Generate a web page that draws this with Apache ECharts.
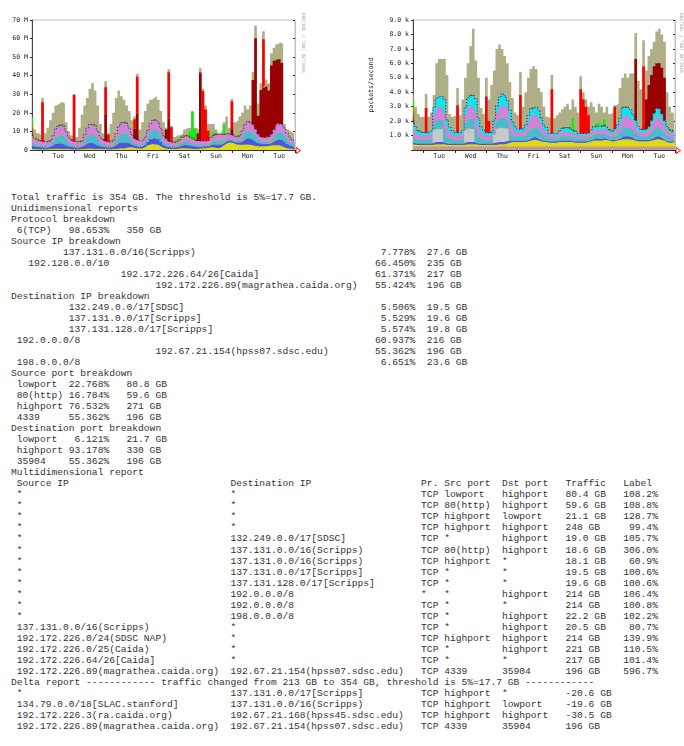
<!DOCTYPE html>
<html>
<head>
<meta charset="utf-8">
<title>traffic report</title>
<script src="https://cdn.jsdelivr.net/npm/echarts@6/dist/echarts.min.js"></script>
<style>
  html, body { margin: 0; padding: 0; background: #fff; }
  body { width: 684px; height: 746px; overflow: hidden; position: relative; }
  #graphs { position: absolute; left: 0; top: 0; width: 684px; height: 175px; }
  #report {
    position: absolute; left: 11px; top: 192px; margin: 0;
    font-family: "Liberation Mono", monospace; font-size: 9.65px; line-height: 11.02px;
    color: #333; white-space: pre;
  }
</style>
</head>
<body>
<div id="graphs"></div>
<pre id="report"></pre>
<script>
// samples every 2 hours, starting Monday 16:00
var days = ['Mon', 'Tue', 'Wed', 'Thu', 'Fri', 'Sat', 'Sun', 'Mon', 'Tue', 'Wed'];
var startHour = 16;
var stepHours = 2;

// ---- bytes graph (M) ----
var yellowL = [0.5,0.5,0.4,0.4,
  0.4,0.4,0.4,0.5,0.6,0.7,0.7,0.7,0.6,0.5,0.5,0.4,
  0.4,0.4,0.4,0.5,0.6,0.7,0.8,0.7,0.6,0.5,0.5,0.5,
  0.5,0.4,0.4,0.5,0.6,0.8,0.9,0.8,1.2,1.5,1.5,1.2,
  1.0,0.8,0.8,1.5,2.5,3.0,3.2,3.0,2.8,2.0,1.2,0.8,
  0.6,0.5,0.5,0.6,0.8,1.0,1.0,0.9,0.8,0.7,0.6,0.6,
  0.8,1.0,1.0,1.2,1.5,1.5,1.2,1.0,1.5,2.5,3.5,4.0,
  4.0,3.5,3.0,2.8,2.8,3.0,3.0,2.8,2.6,2.2,2.0,2.0,
  2.0,2.0,2.2,2.5,2.6,2.6,2.5,2.2,1.5,1.0,0.8,0.6,
  0.5];
var blueL = [1.8,1.5,1.3,1.2,
  1.1,1.0,1.0,1.2,1.8,2.5,2.8,3.0,2.8,2.2,1.6,1.3,
  1.1,1.0,1.0,1.2,1.8,2.6,3.0,3.1,2.9,2.2,1.6,1.3,
  1.1,1.0,1.0,1.3,2.0,2.8,3.2,3.2,3.0,2.4,1.7,1.3,
  1.1,1.0,1.0,1.3,2.0,2.8,3.2,3.3,3.0,2.4,1.7,1.3,
  1.0,0.9,0.9,1.0,1.2,1.5,1.8,1.8,1.6,1.5,1.3,1.1,
  1.0,0.9,0.9,1.0,1.3,1.6,1.8,1.8,1.7,1.6,1.4,1.2,
  1.1,1.0,1.0,1.4,2.2,3.0,3.4,3.4,3.1,2.6,1.9,1.5,
  1.3,1.2,1.2,1.5,2.2,3.0,3.3,3.2,2.8,2.2,1.6,1.3,
  1.2];
var tealL = [2.0,1.5,1.2,1.0,
  0.9,0.8,0.8,1.0,2.0,3.5,4.2,4.5,4.2,3.2,1.8,1.2,
  0.9,0.8,0.8,1.0,2.2,3.6,4.4,4.6,4.2,3.2,1.8,1.2,
  0.9,0.8,0.8,1.1,2.4,4.0,4.8,5.0,4.5,3.4,2.0,1.3,
  1.0,0.9,0.9,1.2,2.4,3.8,4.4,4.6,4.2,3.2,2.0,1.4,
  1.0,0.9,0.8,0.9,1.2,1.6,2.0,2.0,1.8,1.5,1.2,1.0,
  0.9,0.8,0.8,0.9,1.2,1.8,2.2,2.2,2.0,1.6,1.3,1.0,
  0.9,0.8,0.8,1.1,2.2,3.4,4.0,4.0,3.6,2.8,1.8,1.3,
  1.0,1.0,1.1,1.5,2.4,3.4,3.8,3.8,3.4,2.6,1.6,1.1,
  1.0];
var violetL = [4.0,3.0,2.6,2.5,
  2.3,2.2,2.2,2.5,3.5,4.8,5.4,5.5,5.2,4.2,3.0,2.6,
  2.3,2.2,2.2,2.5,3.6,5.0,5.6,5.6,5.3,4.3,3.0,2.6,
  2.3,2.2,2.3,2.6,3.8,5.2,5.8,6.0,5.6,4.5,3.2,2.7,
  2.4,2.3,2.3,2.7,3.6,4.6,5.2,5.4,5.0,4.0,3.0,2.6,
  2.2,2.0,2.0,2.1,2.4,2.8,3.0,3.0,2.8,2.6,2.4,2.2,
  2.2,2.1,2.1,2.2,2.6,3.0,3.4,3.4,3.2,2.8,2.6,2.4,
  2.3,2.2,2.3,2.6,3.4,4.4,4.8,4.8,4.4,3.6,2.8,2.5,
  2.4,2.4,2.6,3.0,3.8,4.4,4.8,4.6,4.2,3.4,2.8,2.5,
  2.4];
// overall height of the graph (top of the khaki area)
var totalL = [19,11,9,8,
  28,9,12,16,20,24,25,26,25,15,10,8,
  30,7,12,19,24,28,33,36,32,24,14,9,
  37,9,14,20,28,32,29,27,24,21,16,18,
  41,11,15,21,25,27,28,29,27,21,15,12,
  43.5,13,7,8,8,9,11,12,12,21,12,11,
  44,33,24,14,14,14,11,9,10,15,18,12,
  27.5,15,16,18,20,24,22,24,42,67,25,36,
  64,38,36,52,55,57,58,57,14,11,10,9,
  8];
// [sample, value] for the short bursts
var darkredL = [[28,14],[39,5],[40,14],[51,5],[52,12],[63,4],[64,36],[76,3],[84,24],[85,49],
  [86,10],[87,25],[88,27],[89,28],[90,25],[91,37],[92,37],[93,35.5],[94,34.6],[95,33]];
var redL = [[0,9],[4,21],[16,25],[28,15],[29,4],[39,5],[40,20],[52,25],[53,8],[64,1],
  [65,27],[66,17],[67,5],[76,15],[88,26]];
var greenL = [[60,3],[61,14],[62,6],[68,1.5],[69,1.5],[70,1],[73,5]];

// ---- packets graph (k/s) ----
var rosyR = [0.25,0.25,0.25,0.25,
  0.25,0.25,0.25,0.25,0.25,0.25,0.25,0.25,0.25,0.25,0.25,0.25,
  0.25,0.25,0.25,0.25,0.25,0.25,0.25,0.25,0.25,0.25,0.25,0.25,
  0.25,0.25,0.25,0.25,0.25,0.25,0.25,0.25,0.25,0.25,0.25,0.25,
  0.25,0.25,0.25,0.25,0.25,0.25,0.25,0.25,0.25,0.25,0.25,0.25,
  0.25,0.25,0.25,0.25,0.25,0.25,0.25,0.25,0.25,0.25,0.25,0.25,
  0.25,0.25,0.25,0.25,0.25,0.25,0.25,0.25,0.25,0.25,0.25,0.25,
  0.25,0.25,0.25,0.25,0.25,0.25,0.25,0.25,0.25,0.25,0.25,0.25,
  0.25,0.25,0.25,0.25,0.25,0.25,0.25,0.25,0.25,0.25,0.25,0.25,
  0.25];
var yellowR = [0.15,0.12,0.1,0.1,
  0.1,0.1,0.1,0.1,0.12,0.15,0.15,0.15,0.15,0.12,0.1,0.1,
  0.1,0.1,0.1,0.1,0.12,0.15,0.15,0.15,0.15,0.12,0.1,0.1,
  0.1,0.1,0.1,0.1,0.12,0.15,0.15,0.15,0.2,0.25,0.3,0.3,
  0.3,0.3,0.3,0.3,0.35,0.4,0.45,0.45,0.4,0.35,0.3,0.3,
  0.25,0.25,0.25,0.25,0.3,0.3,0.3,0.3,0.3,0.3,0.25,0.25,
  0.25,0.25,0.25,0.3,0.35,0.4,0.4,0.4,0.4,0.45,0.45,0.4,
  0.35,0.35,0.4,0.45,0.5,0.5,0.5,0.5,0.45,0.4,0.35,0.35,
  0.35,0.35,0.35,0.4,0.45,0.5,0.5,0.45,0.4,0.3,0.25,0.25,
  0.25];
var blueR = [0.15,0.12,0.1,0.1,
  0.1,0.1,0.1,0.1,0.12,0.15,0.15,0.15,0.15,0.12,0.1,0.1,
  0.1,0.1,0.1,0.1,0.12,0.15,0.15,0.15,0.15,0.12,0.1,0.1,
  0.1,0.1,0.1,0.12,0.15,0.15,0.15,0.15,0.15,0.15,0.12,0.1,
  0.1,0.1,0.1,0.12,0.15,0.2,0.2,0.2,0.2,0.15,0.12,0.1,
  0.1,0.1,0.1,0.1,0.1,0.1,0.1,0.1,0.1,0.1,0.1,0.1,
  0.1,0.1,0.1,0.1,0.12,0.15,0.15,0.15,0.15,0.15,0.12,0.1,
  0.1,0.1,0.12,0.15,0.2,0.2,0.2,0.2,0.2,0.15,0.12,0.1,
  0.1,0.1,0.12,0.15,0.2,0.2,0.2,0.2,0.15,0.12,0.1,0.1,
  0.1];
var grayR = [[8,0.9],[9,0.9],[10,0.9],[11,0.9],[20,0.9],[21,0.95],[22,0.95],[23,0.9],
  [31,0.6],[32,0.95],[33,1.0],[34,1.0],[35,0.95],[36,0.9]];
var tealR = [0.5,0.35,0.3,0.25,
  0.25,0.25,0.25,0.3,0.45,0.6,0.65,0.65,0.9,0.5,0.35,0.3,
  0.25,0.25,0.25,0.3,0.45,0.6,0.7,0.7,0.9,0.5,0.35,0.3,
  0.25,0.25,0.25,0.3,0.5,0.6,0.7,0.7,0.6,0.6,0.4,0.3,
  0.3,0.3,0.3,0.35,0.5,0.6,0.65,0.65,0.6,0.45,0.35,0.3,
  0.2,0.2,0.2,0.2,0.25,0.3,0.3,0.3,0.3,0.25,0.25,0.2,
  0.2,0.2,0.2,0.2,0.25,0.3,0.3,0.3,0.3,0.3,0.25,0.2,
  0.2,0.25,0.3,0.4,0.55,0.6,0.6,0.55,0.5,0.4,0.3,0.25,
  0.2,0.25,0.3,0.4,0.5,0.6,0.6,0.5,0.4,0.3,0.25,0.2,
  0.2];
var violetR = [0.5,0.4,0.3,0.3,
  0.3,0.3,0.3,0.35,0.6,0.8,0.85,0.85,1.1,0.6,0.45,0.35,
  0.3,0.3,0.3,0.35,0.6,0.8,0.85,0.85,1.1,0.65,0.45,0.35,
  0.3,0.3,0.3,0.4,0.6,0.8,0.9,0.85,0.75,0.8,0.5,0.35,
  0.3,0.3,0.3,0.4,0.7,0.85,0.9,0.9,0.8,0.6,0.4,0.35,
  0.2,0.2,0.2,0.2,0.25,0.3,0.3,0.3,0.3,0.25,0.25,0.2,
  0.2,0.2,0.2,0.2,0.25,0.3,0.3,0.3,0.3,0.35,0.3,0.25,
  0.25,0.3,0.35,0.5,0.75,0.8,0.8,0.75,0.6,0.5,0.35,0.3,
  0.3,0.3,0.35,0.5,0.65,0.75,0.75,0.65,0.5,0.4,0.35,0.3,
  0.3];
var cyanR = [0.5,0.4,0.3,0.25,
  0.2,0.2,0.2,0.25,0.5,0.7,0.75,0.75,1.0,0.5,0.35,0.25,
  0.2,0.2,0.2,0.25,0.5,0.7,0.75,0.75,1.0,0.55,0.35,0.25,
  0.2,0.2,0.25,0.3,0.5,0.7,0.75,0.7,0.6,0.7,0.4,0.3,
  0.2,0.2,0.2,0.3,0.45,0.55,0.5,0.5,0.5,0.4,0.3,0.25,
  0.15,0.15,0.15,0.15,0.2,0.25,0.3,0.3,0.25,0.2,0.2,0.15,
  0.15,0.15,0.15,0.15,0.2,0.2,0.25,0.25,0.25,0.25,0.2,0.2,
  0.15,0.2,0.3,0.45,0.7,0.65,0.6,0.55,0.45,0.35,0.25,0.2,
  0.2,0.2,0.25,0.35,0.5,0.6,0.55,0.45,0.35,0.25,0.2,0.2,
  0.2];
var totalR = [4.3,3.0,2.5,2.3,
  2.3,3.9,2.3,2.6,3.8,6.0,6.3,6.3,6.3,5.2,2.5,2.3,
  2.4,4.3,2.4,3.5,5.0,6.0,7.2,8.4,6.2,5.0,2.9,2.5,
  5.0,3.5,4.5,5.5,7.0,7.3,7.0,6.5,6.0,4.7,3.6,2.6,
  2.4,5.4,3.0,4.0,5.0,5.6,5.8,5.6,4.3,4.0,3.0,2.3,
  2.2,5.2,2.2,2.4,2.6,2.8,3.0,3.2,2.8,3.5,3.0,2.6,
  5.1,4.0,3.5,3.0,3.3,3.0,2.6,3.2,3.0,2.6,3.0,2.5,
  2.6,3.1,3.2,4.3,5.0,5.3,5.0,5.3,5.3,8.1,4.8,4.2,
  7.6,5.5,6.5,7.0,7.5,8.2,8.4,8.0,7.5,4.0,3.0,2.6,
  2.4];
var darkredR = [[85,4.25],[89,2.05],[90,2.88],[91,3.15],[92,3.25],[93,3.1],[94,3.15],[95,3.2],[96,2.95]];
var redR = [[0,1.45],[5,1.7],[17,1.9],[28,2.5],[29,0.8],[41,2.35],[53,3.05],[64,3.05],[65,2.35],
  [66,1.85],[67,1.2],[77,1.55],[88,4.4]];
var greenR = [[61,0.85],[70,0.2],[71,0.2],[73,0.4]];

// ---- report tables ----
var protocolRows = [['6(TCP)', '98.653%', '350 GB']];
var srcIpRows = [
  ['137.131.0.0/16(Scripps)', '7.778%', '27.6 GB'],
  ['192.128.0.0/10', '66.450%', '235 GB'],
  ['192.172.226.64/26[Caida]', '61.371%', '217 GB'],
  ['192.172.226.89(magrathea.caida.org)', '55.424%', '196 GB']
];
var dstIpRows = [
  ['132.249.0.0/17[SDSC]', '5.506%', '19.5 GB'],
  ['137.131.0.0/17[Scripps]', '5.529%', '19.6 GB'],
  ['137.131.128.0/17[Scripps]', '5.574%', '19.8 GB'],
  ['192.0.0.0/8', '60.937%', '216 GB'],
  ['192.67.21.154(hpss07.sdsc.edu)', '55.362%', '196 GB'],
  ['198.0.0.0/8', '6.651%', '23.6 GB']
];
var srcPortRows = [
  ['lowport', '22.768%', '80.8 GB'],
  ['80(http)', '16.784%', '59.6 GB'],
  ['highport', '76.532%', '271 GB'],
  ['4339', '55.362%', '196 GB']
];
var dstPortRows = [
  ['lowport', '6.121%', '21.7 GB'],
  ['highport', '93.178%', '330 GB'],
  ['35904', '55.362%', '196 GB']
];
var multiHeader = ['Source IP', 'Destination IP', 'Pr.', 'Src port', 'Dst port', 'Traffic', 'Label'];
var multiRows = [
  ['*', '*', 'TCP', 'lowport', 'highport', '80.4 GB', '108.2%'],
  ['*', '*', 'TCP', '80(http)', 'highport', '59.6 GB', '108.8%'],
  ['*', '*', 'TCP', 'highport', 'lowport', '21.1 GB', '128.7%'],
  ['*', '*', 'TCP', 'highport', 'highport', '248 GB', '99.4%'],
  ['*', '132.249.0.0/17[SDSC]', 'TCP', '*', 'highport', '19.0 GB', '105.7%'],
  ['*', '137.131.0.0/16(Scripps)', 'TCP', '80(http)', 'highport', '18.6 GB', '306.0%'],
  ['*', '137.131.0.0/16(Scripps)', 'TCP', 'highport', '*', '18.1 GB', '60.9%'],
  ['*', '137.131.0.0/17[Scripps]', 'TCP', '*', '*', '19.5 GB', '100.6%'],
  ['*', '137.131.128.0/17[Scripps]', 'TCP', '*', '*', '19.6 GB', '100.6%'],
  ['*', '192.0.0.0/8', '*', '*', 'highport', '214 GB', '106.4%'],
  ['*', '192.0.0.0/8', 'TCP', '*', '*', '214 GB', '100.8%'],
  ['*', '198.0.0.0/8', 'TCP', '*', 'highport', '22.2 GB', '102.2%'],
  ['137.131.0.0/16(Scripps)', '*', 'TCP', '*', 'highport', '20.5 GB', '80.7%'],
  ['192.172.226.0/24(SDSC NAP)', '*', 'TCP', 'highport', 'highport', '214 GB', '139.9%'],
  ['192.172.226.0/25(Caida)', '*', 'TCP', '*', 'highport', '221 GB', '110.5%'],
  ['192.172.226.64/26[Caida]', '*', 'TCP', '*', '*', '217 GB', '101.4%'],
  ['192.172.226.89(magrathea.caida.org)', '192.67.21.154(hpss07.sdsc.edu)', 'TCP', '4339', '35904', '196 GB', '596.7%']
];
var deltaTitle = 'Delta report ------------ traffic changed from 213 GB to 354 GB, threshold is 5%=17.7 GB ------------';
var deltaRows = [
  ['*', '137.131.0.0/17[Scripps]', 'TCP', 'highport', '*', '-20.6 GB', ''],
  ['134.79.0.0/18[SLAC.stanford]', '137.131.0.0/16(Scripps)', 'TCP', 'highport', 'lowport', '-19.6 GB', ''],
  ['192.172.226.3(ra.caida.org)', '192.67.21.168(hpss45.sdsc.edu)', 'TCP', 'highport', 'highport', '-30.5 GB', ''],
  ['192.172.226.89(magrathea.caida.org)', '192.67.21.154(hpss07.sdsc.edu)', 'TCP', '4339', '35904', '196 GB', '']
];

// ---------------------------------------------------------------
var n = totalL.length;
var cats = [];
for (var i = 0; i < n; i++) {
  var h = startHour + i * stepHours;
  cats.push(days[Math.floor(h / 24)] + ' ' + (h % 24) + ':00');
}
function fromPairs(pairs) {
  var a = [];
  for (var k = 0; k < n; k++) a.push(0);
  pairs.forEach(function (p) { a[p[0]] = p[1]; });
  return a;
}

var font = 'DejaVu Sans Mono';
var C = {
  khaki: '#b0ae86', yellow: '#dcdc10', blue: '#4a55e0', teal: '#48bcc8',
  violet: '#cf84d8', cyan: '#10e2ee', gray: '#c8c8c8', rosy: '#c89898',
  darkred: '#990000', red: '#ff0000', green: '#10ee10', dots: '#14147a'
};

function xAxis(g) {
  return {
    type: 'category', gridIndex: g, data: cats, boundaryGap: false,
    axisLine: { lineStyle: { color: '#333', width: 1 } },
    axisTick: { interval: function (idx) { return (idx - 4) % 12 === 0; }, length: 3, lineStyle: { color: '#800000' } },
    axisLabel: {
      interval: function (idx) { return (idx - 10) % 12 === 0; },
      formatter: function (v) { return v.split(' ')[0]; },
      fontFamily: font, fontSize: 6.5, color: '#222', margin: 3
    },
    splitLine: { show: false }
  };
}
function yAxes(g, max, fmt, extra) {
  var left = Object.assign({
    type: 'value', gridIndex: g, min: 0, max: max, interval: max === 70 ? 10 : 1,
    axisLine: { show: true, lineStyle: { color: '#444' } },
    axisTick: { show: true, length: 2, lineStyle: { color: '#990000' } },
    axisLabel: { formatter: fmt, fontFamily: font, fontSize: 6.5, color: '#222', margin: 4 },
    splitLine: { show: false }
  }, extra || {});
  var right = {
    type: 'value', gridIndex: g, position: 'right', min: 0, max: max, interval: max === 70 ? 10 : 1,
    axisLine: { show: true, lineStyle: { color: '#c0c0c0' } },
    axisTick: { show: true, inside: true, length: 2, lineStyle: { color: '#990000' } },
    axisLabel: { show: false }, splitLine: { show: false }
  };
  return [left, right];
}
function area(name, data, color, g, stacked, line) {
  return {
    name: name, type: 'line', data: data, xAxisIndex: g, yAxisIndex: g * 2,
    stack: stacked ? 'traffic' + g : undefined, step: 'middle', symbol: 'none',
    silent: true, animation: false,
    lineStyle: line || { width: 0 }, areaStyle: { color: color, opacity: 1 },
    itemStyle: { color: color }
  };
}
var dotted = { width: 1, type: [1, 2], color: C.dots };

var chart = echarts.init(document.getElementById('graphs'), null, { renderer: 'canvas' });
chart.setOption({
  animation: false,
  grid: [
    { left: 32, top: 20, width: 263, height: 130, show: true, borderColor: '#c0c0c0', borderWidth: 1 },
    { left: 413, top: 20, width: 262, height: 130, show: true, borderColor: '#c0c0c0', borderWidth: 1 }
  ],
  xAxis: [xAxis(0), xAxis(1)],
  yAxis: yAxes(0, 70, function (v) { return v ? v + ' M' : '0'; })
    .concat(yAxes(1, 9, function (v) { return v ? v.toFixed(1) + ' k' : ''; }, {
      name: 'packets/second', nameLocation: 'middle', nameGap: 38,
      nameTextStyle: { fontFamily: font, fontSize: 6.5, color: '#222' }
    })),
  series: [
    area('other', totalL, C.khaki, 0, false),
    area('s1', yellowL, C.yellow, 0, true),
    area('s2', blueL, C.blue, 0, true),
    area('s3', tealL, C.teal, 0, true),
    area('s4', violetL, C.violet, 0, true, dotted),
    area('s5', fromPairs(darkredL), C.darkred, 0, true),
    area('s6', fromPairs(redL), C.red, 0, true),
    area('s7', fromPairs(greenL), C.green, 0, true),

    area('other', totalR, C.khaki, 1, false),
    area('p0', rosyR, C.rosy, 1, true),
    area('p1', yellowR, C.yellow, 1, true),
    area('p2', blueR, C.blue, 1, true),
    area('p3', fromPairs(grayR), C.gray, 1, true),
    area('p4', tealR, C.teal, 1, true),
    area('p5', violetR, C.violet, 1, true),
    area('p6', cyanR, C.cyan, 1, true, dotted),
    area('p7', fromPairs(darkredR), C.darkred, 1, true),
    area('p8', fromPairs(redR), C.red, 1, true),
    area('p9', fromPairs(greenR), C.green, 1, true)
  ],
  graphic: [
    { type: 'text', x: 306, y: 13, rotation: -Math.PI / 2, silent: true,
      style: { text: 'RRDTOOL / TOBI OETIKER', fontSize: 4.5, fontFamily: font, fill: '#a8a8a8' } },
    { type: 'text', x: 684, y: 13, rotation: -Math.PI / 2, silent: true,
      style: { text: 'RRDTOOL / TOBI OETIKER', fontSize: 4.5, fontFamily: font, fill: '#a8a8a8' } },
    { type: 'polygon', silent: true, shape: { points: [[296, 147.5], [300.5, 150.5], [296, 153.5]] },
      style: { fill: '#fff', stroke: '#ff0000', lineWidth: 1 } },
    { type: 'polygon', silent: true, shape: { points: [[676, 147.5], [680.5, 150.5], [676, 153.5]] },
      style: { fill: '#fff', stroke: '#ff0000', lineWidth: 1 } }
  ]
});

// ---- text report ----
function pad(s, w) { return (s + ' '.repeat(w)).slice(0, Math.max(w, s.length)); }
function lpad(s, w) { return s.length >= w ? s : ' '.repeat(w - s.length) + s; }
function shortLine(r) { return ' ' + pad(r[0], 8) + lpad(r[1], 8) + '   ' + r[2]; }
function ipLine(r) {
  var m = r[0].match(/\/(\d+)/);
  var depth = (m ? parseInt(m[1], 10) : 32) - 7;
  return pad(' '.repeat(depth) + r[0], 62) + lpad(r[1], 8) + '  ' + r[2];
}
function multiLine(r, header) {
  return (' ' + pad(r[0], 37) + pad(r[1], 33) + pad(r[2], 4) + pad(r[3], 10) +
    pad(r[4], 11) + pad(r[5], 10) + (header ? r[6] : lpad(r[6], 6))).replace(/\s+$/, '');
}
var out = [];
out.push('Total traffic is 354 GB. The threshold is 5%=17.7 GB.');
out.push('Unidimensional reports');
out.push('Protocol breakdown');
protocolRows.forEach(function (r) { out.push(shortLine(r)); });
out.push('Source IP breakdown');
srcIpRows.forEach(function (r) { out.push(ipLine(r)); });
out.push('Destination IP breakdown');
dstIpRows.forEach(function (r) { out.push(ipLine(r)); });
out.push('Source port breakdown');
srcPortRows.forEach(function (r) { out.push(shortLine(r)); });
out.push('Destination port breakdown');
dstPortRows.forEach(function (r) { out.push(shortLine(r)); });
out.push('Multidimensional report');
out.push(multiLine(multiHeader, true));
multiRows.forEach(function (r) { out.push(multiLine(r)); });
out.push(deltaTitle);
deltaRows.forEach(function (r) { out.push(multiLine(r)); });
document.getElementById('report').textContent = out.join('\n');
</script>
</body>
</html>
